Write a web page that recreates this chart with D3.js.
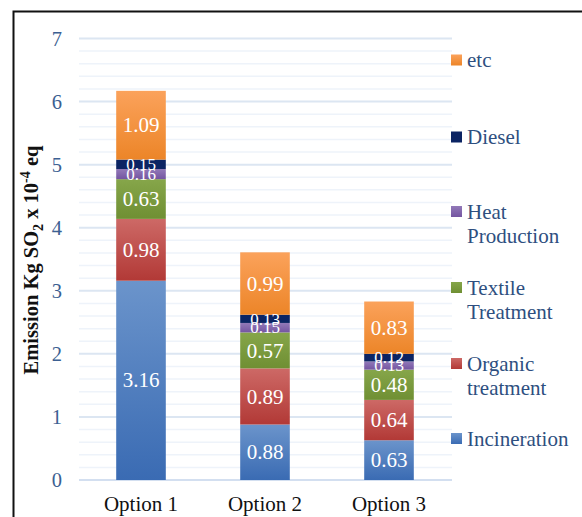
<!DOCTYPE html>
<html>
<head>
<meta charset="utf-8">
<script src="https://cdn.jsdelivr.net/npm/d3@7/dist/d3.min.js"></script>
<style>
  html, body { margin: 0; padding: 0; background: #fff; }
  svg { display: block; }
  svg text { font-family: "Liberation Serif", "Times New Roman", "DejaVu Serif", serif; }
</style>
</head>
<body>
<svg id="chart" width="582" height="517"></svg>
<script>
// Scenario totals per emission source (Kg SO2 x 10^-4 eq)
const options = ["Option 1", "Option 2", "Option 3"];
const sources = ["Incineration", "Organic treatment", "Textile Treatment", "Heat Production", "Diesel", "etc"];
const incineration = [3.16, 0.88, 0.63];
const organic      = [0.98, 0.89, 0.64];
const textile      = [0.63, 0.57, 0.48];
const heat         = [0.16, 0.15, 0.13];
const diesel       = [0.15, 0.13, 0.12];
const etc          = [1.09, 0.99, 0.83];
const yTicks = [0, 1, 2, 3, 4, 5, 6, 7];

const seriesValues = [incineration, organic, textile, heat, diesel, etc];
const legendLines = [["Incineration"], ["Organic", "treatment"], ["Textile", "Treatment"], ["Heat", "Production"], ["Diesel"], ["etc"]];

// gradient stops: lighter top, darker bottom
const palette = [
  { top: "#6b94cb", bottom: "#3a6bb3" },
  { top: "#cd6966", bottom: "#b23936" },
  { top: "#86a64a", bottom: "#6f8f33" },
  { top: "#9279b8", bottom: "#7455a1" },
  { top: "#0b2463", bottom: "#0b2463" },
  { top: "#fba25b", bottom: "#ec8528" }
];

const rows = options.map((o, i) => {
  const r = { option: o };
  sources.forEach((s, k) => r[s] = seriesValues[k][i]);
  return r;
});
const stack = d3.stack().keys(sources)(rows);

const svg = d3.select("#chart");

const defs = svg.append("defs");
palette.forEach((p, k) => {
  const g = defs.append("linearGradient").attr("id", "grad" + k)
    .attr("x1", 0).attr("y1", 0).attr("x2", 0).attr("y2", 1);
  g.append("stop").attr("offset", "0%").attr("stop-color", p.top);
  g.append("stop").attr("offset", "100%").attr("stop-color", p.bottom);
});

const x = d3.scaleBand().domain(options).range([79, 451]).paddingInner(0.6).paddingOuter(0.3);
const y = d3.scaleLinear().domain([0, 7]).range([480, 38.5]);

// minor gridlines
const minor = d3.range(0, 7.001, 0.2).filter(v => Math.abs(v - Math.round(v)) > 1e-6);
svg.append("g").selectAll("line").data(minor).join("line")
  .attr("x1", 79).attr("x2", 452)
  .attr("y1", d => y(d)).attr("y2", d => y(d))
  .attr("stroke", "#eef3fa").attr("stroke-width", 1.5);

// major gridlines
svg.append("g").selectAll("line").data(yTicks).join("line")
  .attr("x1", 79).attr("x2", 452)
  .attr("y1", d => y(d)).attr("y2", d => y(d))
  .attr("stroke", d => d === 0 ? "#d3dff0" : "#dce6f2").attr("stroke-width", 2);

// y axis labels
const yAxis = d3.axisLeft(y).tickValues(yTicks).tickSize(0).tickPadding(0).tickFormat(d3.format("d"));
const ya = svg.append("g").attr("transform", "translate(62,0)").call(yAxis);
ya.attr("font-family", null).attr("font-size", null);
ya.select(".domain").remove();
ya.selectAll("text").style("font-size", "20.5px")
  .attr("fill", "#3c5f92").attr("dy", "0.34em");

// x axis labels
const xAxis = d3.axisBottom(x).tickSize(0).tickPadding(0);
const xa = svg.append("g").attr("transform", "translate(0,496)").call(xAxis);
xa.attr("font-family", null).attr("font-size", null);
xa.select(".domain").remove();
xa.selectAll("text").style("font-size", "21px")
  .attr("fill", "#111").attr("dy", "0.71em");

// stacked bars
const layers = svg.append("g").selectAll("g").data(stack).join("g")
  .attr("fill", (d, k) => `url(#grad${k})`);
layers.selectAll("rect").data(d => d).join("rect")
  .attr("x", d => x(d.data.option))
  .attr("width", x.bandwidth())
  .attr("y", d => y(d[1]))
  .attr("height", d => y(d[0]) - y(d[1]));

// value labels, read straight from the series arrays
const labels = svg.append("g");
stack.forEach((layer, k) => {
  layer.forEach((d, i) => {
    const v = seriesValues[k][i];
    const small = v < 0.2;
    labels.append("text")
      .attr("x", x(d.data.option) + x.bandwidth() / 2)
      .attr("y", y((d[0] + d[1]) / 2))
      .attr("dy", "0.34em")
      .attr("text-anchor", "middle")
      .style("font-size", small ? "17px" : "21px")
      .attr("fill", "#ffffff")
      .text(d3.format(".2f")(v));
  });
});

// legend (top entry is the last series)
const legY = [438.5, 363.5, 287.5, 211.5, 137, 60];
const leg = svg.append("g");
sources.forEach((s, k) => {
  const g = leg.append("g").attr("transform", `translate(451,${legY[k]})`);
  g.append("rect").attr("x", 0).attr("y", -5.5).attr("width", 11).attr("height", 11)
    .attr("fill", `url(#grad${k})`);
  const t = g.append("text").attr("x", 16).attr("y", 7)
    .style("font-size", "21px").attr("fill", "#2e4f80");
  legendLines[k].forEach((line, j) => {
    t.append("tspan").attr("x", 16).attr("dy", j === 0 ? 0 : 24).text(line);
  });
});

// y axis title
const title = svg.append("text")
  .attr("transform", "translate(38,260) rotate(-90)")
  .attr("text-anchor", "middle")
  .style("font-size", "20.5px").attr("font-weight", "bold")
  .attr("fill", "#111");
title.append("tspan").text("Emission Kg SO");
title.append("tspan").style("font-size", "14px").attr("dy", 5).text("2");
title.append("tspan").attr("dy", -5).text(" x 10");
title.append("tspan").style("font-size", "14px").attr("dy", -8).text("-4");
title.append("tspan").attr("dy", 8).text(" eq");

// outer frame
svg.append("rect").attr("x", 13.5).attr("y", 11.5).attr("width", 600).attr("height", 540)
  .attr("fill", "none").attr("stroke", "#111").attr("stroke-width", 2);
</script>
</body>
</html>
